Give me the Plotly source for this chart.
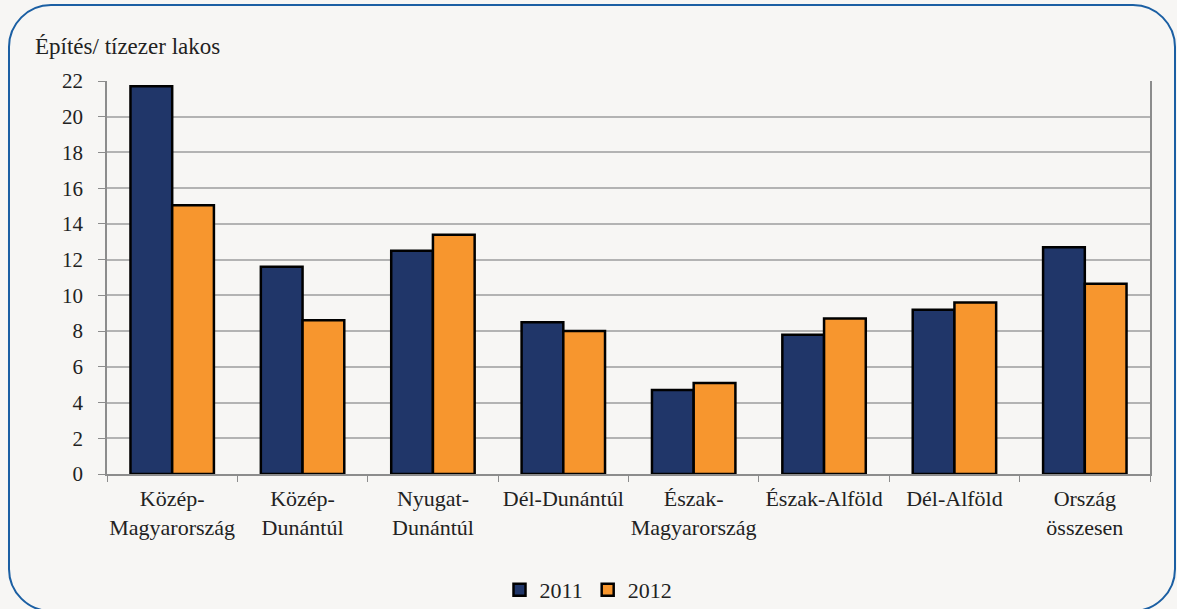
import plotly.graph_objects as go

categories = ["Közép-<br>Magyarország", "Közép-<br>Dunántúl", "Nyugat-<br>Dunántúl", "Dél-Dunántúl",
              "Észak-<br>Magyarország", "Észak-Alföld", "Dél-Alföld", "Ország<br>összesen"]
values_2011 = [21.7, 11.6, 12.5, 8.5, 4.7, 7.8, 9.2, 12.7]
values_2012 = [15.05, 8.6, 13.4, 8.0, 5.1, 8.7, 9.6, 10.65]
series_names = ["2011", "2012"]
y_ticks = [0, 2, 4, 6, 8, 10, 12, 14, 16, 18, 20, 22]
y_title = "Építés/ tízezer lakos"

W, H = 1177, 609
L, R, T, B = 107, 27, 81, 135
pw, ph = W - L - R, H - T - B

def px(x):
    return (x - L) / pw

def py(y):
    return (H - B - y) / ph

FONT = "Liberation Serif, Times New Roman, serif"
BG = "#f7f6f4"
TXT = "#222222"

fig = go.Figure()
fig.add_trace(go.Bar(x=categories, y=values_2011, name=series_names[0],
                     marker=dict(color="#203669", line=dict(color="#000000", width=2.5))))
fig.add_trace(go.Bar(x=categories, y=values_2012, name=series_names[1],
                     marker=dict(color="#f7962e", line=dict(color="#000000", width=2.5))))

# rounded border
x0, x1, y0, y1, r = 9, 1175, 5, 611, 42
k = 0.55
path = (
    f"M {px(x0 + r)},{py(y0)} L {px(x1 - r)},{py(y0)} "
    f"C {px(x1 - r + k * r)},{py(y0)} {px(x1)},{py(y0 + r - k * r)} {px(x1)},{py(y0 + r)} "
    f"L {px(x1)},{py(y1 - r)} "
    f"C {px(x1)},{py(y1 - r + k * r)} {px(x1 - r + k * r)},{py(y1)} {px(x1 - r)},{py(y1)} "
    f"L {px(x0 + r)},{py(y1)} "
    f"C {px(x0 + r - k * r)},{py(y1)} {px(x0)},{py(y1 - r + k * r)} {px(x0)},{py(y1 - r)} "
    f"L {px(x0)},{py(y0 + r)} "
    f"C {px(x0)},{py(y0 + r - k * r)} {px(x0 + r - k * r)},{py(y0)} {px(x0 + r)},{py(y0)} Z"
)
fig.add_shape(type="path", path=path, xref="paper", yref="paper",
              line=dict(color="#1b5fa3", width=2), layer="below")

fig.add_annotation(text=y_title, xref="paper", yref="paper", x=px(33), y=py(46),
                   xanchor="left", yanchor="middle", showarrow=False,
                   font=dict(family=FONT, size=23, color=TXT))

fig.update_layout(
    width=W, height=H,
    margin=dict(l=L, r=R, t=T, b=B, autoexpand=False),
    paper_bgcolor=BG, plot_bgcolor=BG,
    barmode="group", bargap=0.36, bargroupgap=0,
    font=dict(family=FONT, size=21, color=TXT),
    showlegend=True,
    legend=dict(orientation="h", x=0.5, xanchor="center", xref="container",
                y=1 - 590 / H, yanchor="middle", yref="container",
                font=dict(family=FONT, size=22, color=TXT),
                itemwidth=30, tracegroupgap=0, bgcolor="rgba(0,0,0,0)"),
    xaxis=dict(showline=True, linecolor="#8c8c8c", linewidth=1.5, automargin=False,
               ticks="outside", tickson="boundaries", ticklen=6, tickcolor="#8c8c8c",
               ticklabelstandoff=4, tickangle=0,
               tickfont=dict(family=FONT, size=22, color=TXT), showgrid=False),
    yaxis=dict(range=[0, 22], tickvals=y_ticks, showline=True, linecolor="#8c8c8c", linewidth=1.5,
               automargin=False, mirror=True, ticks="outside", ticklen=7, tickcolor="#8c8c8c",
               ticklabelstandoff=11,
               gridcolor="#b3b3b3", gridwidth=1.5, zeroline=False,
               tickfont=dict(family=FONT, size=21, color=TXT)),
)

fig.write_html("out.html", config={"displayModeBar": False},
               post_script="document.body.style.margin='0';document.body.style.overflow='hidden';")
